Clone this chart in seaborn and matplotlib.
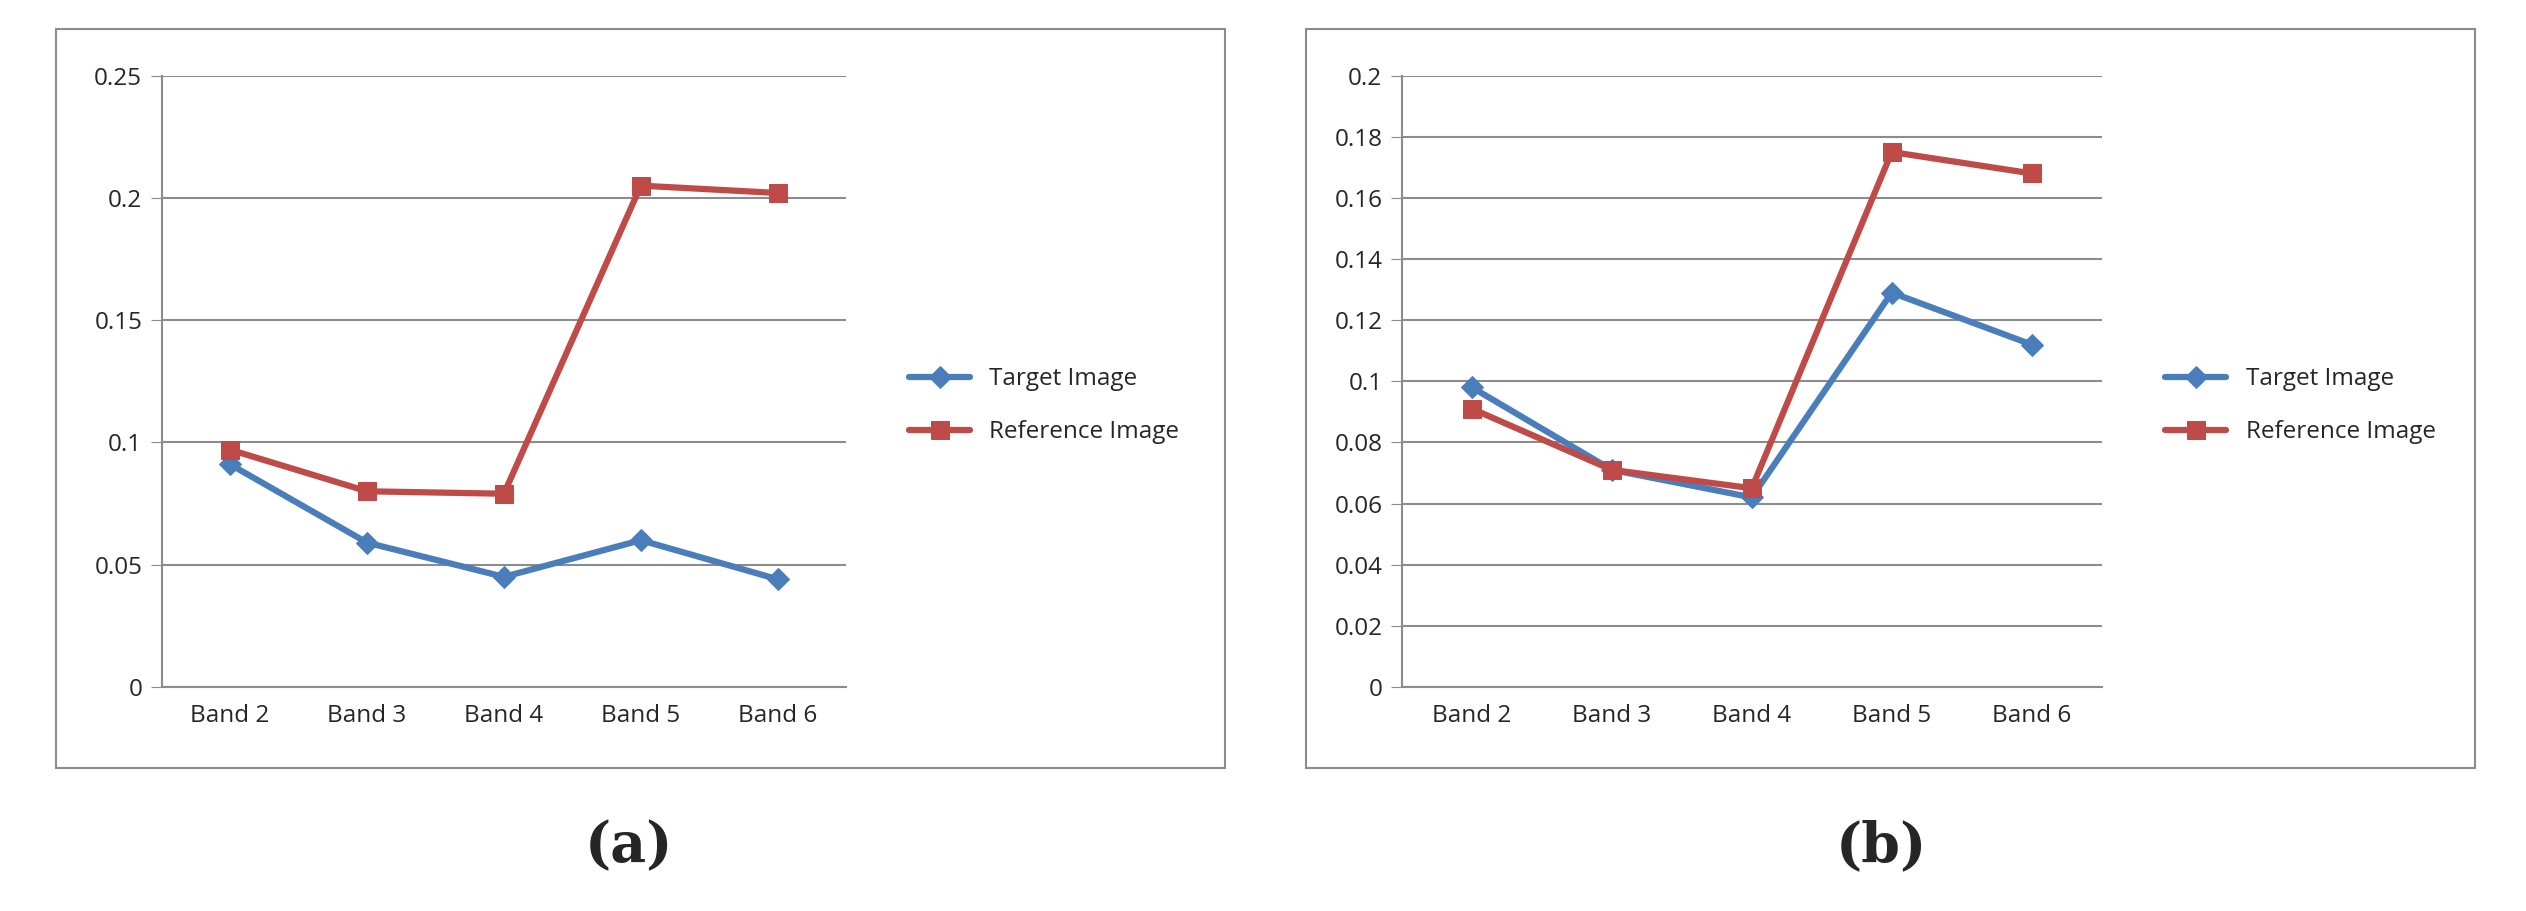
import matplotlib
matplotlib.use("Agg")
import matplotlib.pyplot as plt
import seaborn as sns
from matplotlib.patches import Rectangle

bands = ["Band 2", "Band 3", "Band 4", "Band 5", "Band 6"]
a_target = [0.091, 0.059, 0.045, 0.060, 0.044]
a_reference = [0.097, 0.080, 0.079, 0.205, 0.202]
b_target = [0.098, 0.071, 0.062, 0.129, 0.112]
b_reference = [0.091, 0.071, 0.065, 0.175, 0.168]

sns.set_style("white")
plt.rcParams['font.family'] = ['Open Sans', 'DejaVu Sans']

fig = plt.figure(figsize=(25.26, 9.11), dpi=100)
BLUE = "#4a7ebb"
RED = "#be4b48"

def panel(rect, box, tgt, ref, ymax, step, label, fmt, lx):
    fig.patches.append(Rectangle((box[0], box[1]), box[2], box[3], transform=fig.transFigure,
                                 fill=False, edgecolor="#8c8c8c", lw=1.5))
    ax = fig.add_axes(rect)
    x = list(range(5))
    sns.lineplot(x=x, y=tgt, ax=ax, color=BLUE, lw=4.5, marker="D", markersize=11,
                 markeredgecolor=BLUE, label="Target Image")
    sns.lineplot(x=x, y=ref, ax=ax, color=RED, lw=4.5, marker="s", markersize=13,
                 markeredgecolor=RED, label="Reference Image")
    ax.set_xlim(-0.5, 4.5)
    ax.set_ylim(0, ymax)
    n = int(round(ymax / step))
    yt = [i * step for i in range(n + 1)]
    ax.set_yticks(yt)
    ax.set_yticklabels([fmt(v) for v in yt], fontsize=17.5)
    ax.set_xticks(x)
    ax.set_xticklabels(bands, fontsize=17.5)
    ax.set_xticks([i - 0.5 for i in range(6)], minor=True)
    ax.tick_params(axis="x", which="major", length=0, pad=12)
    ax.tick_params(axis="x", which="minor", length=8, color="#8c8c8c", direction="out")
    ax.tick_params(axis="y", length=8, color="#8c8c8c", direction="out", left=True, pad=6)
    ax.yaxis.grid(True, color="#8c8c8c", lw=1.5)
    for s in ["top", "right"]:
        ax.spines[s].set_visible(False)
    for s in ["left", "bottom"]:
        ax.spines[s].set_color("#8c8c8c")
        ax.spines[s].set_linewidth(1.5)
    ax.legend(loc="center left", bbox_to_anchor=(1.06, 0.46), frameon=False, fontsize=17.5,
              handlelength=2.5, labelspacing=1.2)
    fig.text(lx, 0.07, label, fontsize=40, family="DejaVu Serif",
             fontweight="bold", ha="center", va="center")

panel([0.064, 0.246, 0.271, 0.671], (0.022, 0.157, 0.463, 0.811), a_target, a_reference,
      0.25, 0.05, "(a)", lambda v: "0" if v == 0 else f"{v:g}", 0.249)
panel([0.555, 0.246, 0.277, 0.671], (0.517, 0.157, 0.463, 0.811), b_target, b_reference,
      0.2, 0.02, "(b)", lambda v: "0" if v == 0 else f"{round(v, 2):g}", 0.745)

fig.savefig("out.png", dpi=100)
